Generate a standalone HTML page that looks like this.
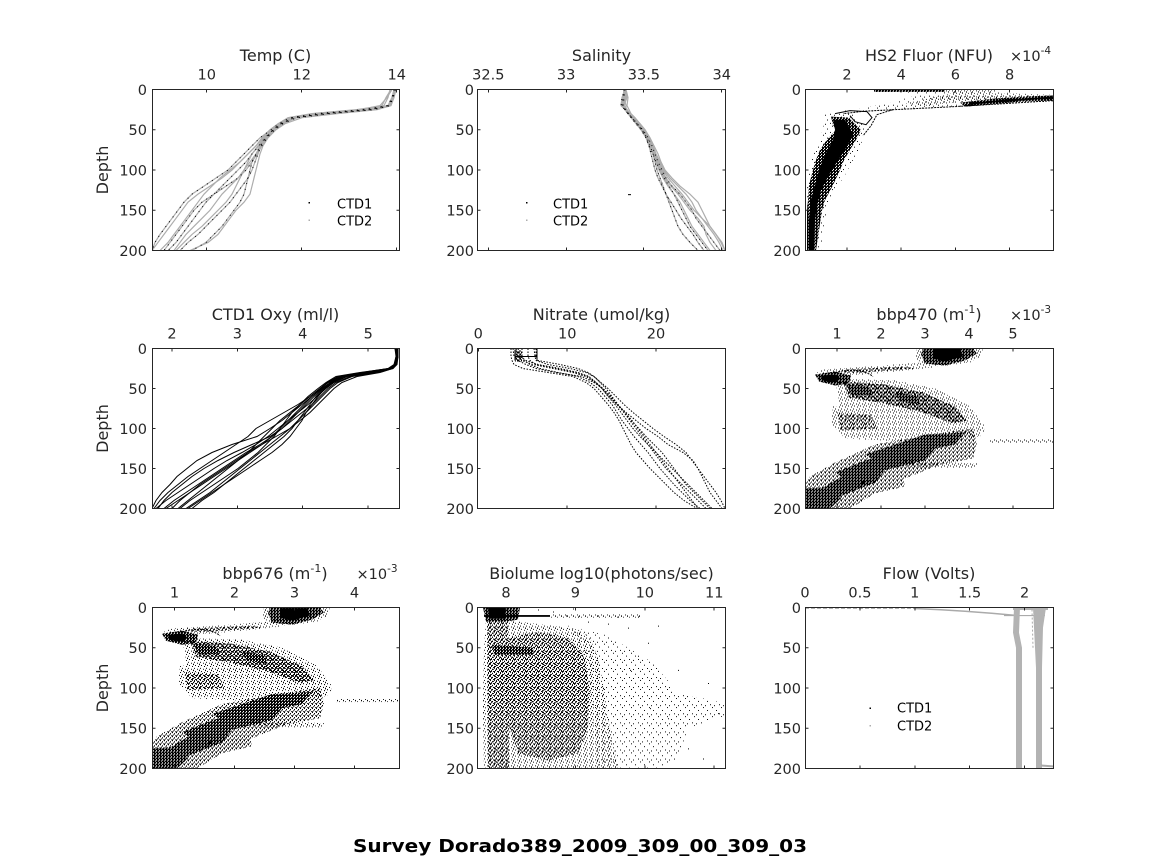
<!DOCTYPE html>
<html><head><meta charset="utf-8"><style>html,body{margin:0;padding:0;background:#fff}svg{display:block}</style></head>
<body>
<svg width="1164" height="864" viewBox="0 0 1164 864" xmlns="http://www.w3.org/2000/svg" xmlns:xlink="http://www.w3.org/1999/xlink" font-family="'DejaVu Sans','Liberation Sans',sans-serif" fill="#262626">
<rect width="1164" height="864" fill="#fff"/>
<defs>
<pattern id="pA" width="9" height="9" patternUnits="userSpaceOnUse"><path shape-rendering="crispEdges" fill="#000" d="M0,0h1v1h-1zM4,3h1v1h-1zM7,6h1v1h-1zM2,7h1v1h-1z"/></pattern>
<pattern id="pB" width="6" height="6" patternUnits="userSpaceOnUse"><path shape-rendering="crispEdges" fill="#000" d="M0,0h1v1h-1zM3,1h1v1h-1zM1,3h1v1h-1zM4,4h1v1h-1zM5,2h1v1h-1z"/></pattern>
<pattern id="pC" width="4" height="4" patternUnits="userSpaceOnUse"><path shape-rendering="crispEdges" fill="#000" d="M0,0h1v1h-1zM2,1h1v1h-1zM1,2h1v1h-1zM3,3h1v1h-1zM0,3h1v1h-1z"/></pattern>
<pattern id="pE" width="4" height="4" patternUnits="userSpaceOnUse"><path shape-rendering="crispEdges" fill="#000" d="M0,0h2v1h-2zM2,1h1v1h-1zM1,2h2v1h-2zM3,3h1v1h-1zM0,3h1v1h-1zM3,0h1v1h-1z"/></pattern>
<pattern id="pD" width="3" height="3" patternUnits="userSpaceOnUse"><rect width="3" height="3" fill="#000"/><path shape-rendering="crispEdges" fill="#fff" d="M1,1h1v1h-1zM0,2h1v1h-1z"/></pattern>
<clipPath id="clipA"><rect x="0" y="0" width="248" height="160"/></clipPath>

<g id="bbp">
<polygon fill="url(#pB)" points="112,0 178,0 176,8 165,14 125,19 110,10"/>
<polygon fill="url(#pD)" points="118,0 168,0 172,5 160,12 140,17 120,15 116,6"/>
<polygon fill="#000" points="128,1 155,1 158,8 140,13 128,10"/>
<polygon fill="url(#pB)" points="118,14 90,16 50,19 20,21 10,24 25,27 60,26 100,22 128,19"/>
<polygon fill="url(#pC)" points="40,21 100,18 110,20 60,24 38,24"/>
<polygon fill="url(#pD)" points="10,26 30,23 46,27 44,35 30,37 14,33"/>
<polygon fill="#000" points="16,27 30,26 36,30 30,34 17,32"/>
<path d="M30,24 Q55,18 68,28" fill="none" stroke="#000" stroke-width="1" stroke-dasharray="2 1"/>
<polygon fill="url(#pB)" points="30,30 90,32 130,40 165,58 180,78 150,80 110,70 70,62 35,58"/>
<polygon fill="url(#pB)" points="28,58 80,56 130,62 170,72 178,80 175,88 150,92 100,93 40,90 26,75"/>
<polygon fill="url(#pE)" points="38,33 80,36 118,44 150,58 162,72 148,75 115,63 80,55 44,49"/>
<polygon fill="url(#pD)" points="42,36 64,38 68,46 46,47"/>
<polygon fill="url(#pD)" points="90,44 112,47 116,56 94,53"/>
<polygon fill="url(#pC)" points="32,64 66,66 72,80 36,82"/>
<polygon fill="url(#pB)" points="155,74 178,76 180,84 160,86"/>
<rect x="184" y="91" width="64" height="3" fill="url(#pB)"/>
<polygon fill="url(#pC)" points="168,80 125,86 70,96 30,114 5,128 0,136 0,160 45,160 70,145 105,128 135,116 168,110 172,95"/>
<polygon fill="url(#pD)" points="120,86 160,84 150,96 100,106 70,112 60,106 90,96"/>
<polygon fill="url(#pD)" points="90,104 130,100 120,112 70,124 40,130 30,124 60,112"/>
<polygon fill="url(#pD)" points="40,126 80,122 70,134 40,146 15,156 5,150 20,138"/>
<polygon fill="url(#pD)" points="0,140 30,138 36,150 25,160 0,160"/>
<polygon fill="url(#pB)" points="98,112 172,115 172,120 98,118"/>
<polygon fill="url(#pC)" points="52,133 98,128 100,138 60,147"/>
</g>

<!-- Temp profiles -->
<path id="t1" d="M244,0 241,8 238,16 222,20 178,24 145,28 130,34 122,40 114,48 108,56 104,64 100,72 98,80 96,88 94,96 92,104 88,112 82,120 76,128 70,136 62,144 54,152 40,160"/>
<path id="t2" d="M238,0 236,8 232,16 205,20 160,24 136,28 126,34 118,40 110,48 104,56 96,64 88,72 80,80 70,88 58,96 46,104 36,112 30,120 24,128 18,136 12,144 6,152 0,160"/>
<path id="t3" d="M243,0 240,8 236,16 210,20 165,24 138,28 127,34 119,40 108,48 100,56 92,64 84,72 76,80 64,88 52,96 40,104 32,112 26,120 20,128 14,136 8,144 3,152 0,160"/>
<path id="t4" d="M244,0 242,8 239,16 225,20 185,24 150,28 133,34 124,40 116,48 111,56 108,64 106,72 104,80 102,88 100,96 98,104 92,112 84,120 78,128 72,136 66,144 56,152 38,160"/>
<path id="t5" d="M242,0 240,8 236,16 218,20 172,24 142,28 129,34 121,40 113,48 107,56 100,64 94,72 86,80 78,88 70,96 62,104 54,112 48,120 42,128 36,136 30,144 24,152 16,160"/>
<path id="t6" d="M243,0 241,8 237,16 212,20 168,24 139,28 128,34 120,40 112,48 106,56 100,64 96,72 92,80 86,88 78,96 70,104 64,112 58,120 50,128 42,136 34,144 28,152 22,160"/>
<path id="t7" d="M240,0 235,8 228,16 208,20 162,24 137,28 127,34 120,40 113,48 109,56 104,64 98,72 92,80 88,88 84,96 80,104 74,112 66,120 58,128 50,136 40,144 32,152 24,160"/>
<path id="t8" d="M243,0 241,8 238,16 220,20 175,24 144,28 131,34 123,40 115,48 110,56 105,64 100,72 94,80 86,88 74,96 62,104 50,112 42,120 36,128 30,136 24,144 18,152 12,160"/>
<path id="t9" d="M239,0 234,8 230,16 214,20 168,24 140,28 128,34 120,40 111,48 104,56 96,64 88,72 78,80 68,88 60,96 52,104 46,112 40,120 34,128 28,136 22,144 16,152 8,160"/>
<path id="t10" d="M243,0 241,8 237,16 216,20 172,24 141,28 129,34 121,40 114,48 109,56 106,64 103,72 100,80 96,88 90,96 84,104 78,112 70,120 62,128 54,136 46,144 36,152 28,160"/>

<!-- Salinity profiles -->
<path id="s1" d="M147,0 144,8 143,16 147,20 150,24 154,28 159,34 164,40 169,48 172,56 175,64 177,72 179,80 182,88 185,96 188,104 191,112 194,120 197,128 200,136 205,144 212,152 220,160"/>
<path id="s2" d="M148,0 150,8 149,16 151,20 153,24 157,28 162,34 167,40 172,48 176,56 180,64 183,72 187,80 194,88 202,96 212,104 220,112 224,120 228,128 232,136 238,144 243,152 247,160"/>
<path id="s3" d="M146,0 145,8 144,16 147,20 150,24 153,28 158,34 163,40 168,48 171,56 173,64 175,72 177,80 180,88 184,96 188,104 193,112 198,120 203,128 209,136 215,144 220,152 226,160"/>
<path id="s4" d="M147,0 148,8 146,16 149,20 152,24 156,28 161,34 166,40 171,48 175,56 178,64 182,72 186,80 192,88 200,96 208,104 214,112 218,120 224,128 230,136 236,144 241,152 245,160"/>
<path id="s5" d="M147,0 149,8 146,16 148,20 151,24 155,28 160,34 165,40 169,48 172,56 175,64 178,72 181,80 185,88 190,96 196,104 202,112 206,120 210,128 214,136 220,144 226,152 232,160"/>
<path id="s6" d="M146,0 146,8 145,16 148,20 151,24 154,28 159,34 165,40 170,48 174,56 177,64 180,72 184,80 188,88 194,96 202,104 208,112 214,120 218,128 224,136 230,144 236,152 242,160"/>
<path id="s7" d="M148,0 146,8 148,16 148,20 152,24 156,28 161,34 166,40 170,48 173,56 176,64 179,72 183,80 187,88 193,96 200,104 206,112 212,120 220,128 226,136 228,144 232,152 238,160"/>
<path id="s8" d="M147,0 146,8 145,16 147,20 150,24 154,28 159,34 164,40 168,48 171,56 175,64 178,72 182,80 186,88 191,96 196,104 200,112 204,120 208,128 212,136 218,144 224,152 230,160"/>
<path id="s9" d="M147,0 147,8 146,16 149,20 152,24 156,28 162,34 167,40 171,48 175,56 178,64 181,72 185,80 190,88 197,96 204,104 210,112 216,120 224,128 232,136 238,144 244,152 247,160"/>
</defs>

<!-- ===== Panel 1: Temp ===== -->
<g transform="translate(152,89.5) scale(1,1.00625)">
<g clip-path="url(#clipA)" fill="none">
<g stroke="#adadad" stroke-width="1.2">
<use xlink:href="#t1"/><use xlink:href="#t2"/><use xlink:href="#t3"/><use xlink:href="#t4"/><use xlink:href="#t5"/><use xlink:href="#t6"/><use xlink:href="#t7"/><use xlink:href="#t8"/><use xlink:href="#t9"/><use xlink:href="#t10"/>
</g>
<g stroke="#000" stroke-width="1" stroke-dasharray="1 5">
<use xlink:href="#t1"/><use xlink:href="#t3"/><use xlink:href="#t5"/><use xlink:href="#t8"/><use xlink:href="#t10"/>
</g>
</g>
</g>

<!-- ===== Panel 2: Salinity ===== -->
<g transform="translate(478,89.5) scale(1,1.00625)">
<g clip-path="url(#clipA)" fill="none">
<g stroke="#adadad" stroke-width="1.2">
<use xlink:href="#s1"/><use xlink:href="#s2"/><use xlink:href="#s3"/><use xlink:href="#s4"/><use xlink:href="#s5"/><use xlink:href="#s6"/><use xlink:href="#s7"/><use xlink:href="#s8"/><use xlink:href="#s9"/>
</g>
<g stroke="#000" stroke-width="1" stroke-dasharray="1 4">
<use xlink:href="#s1"/><use xlink:href="#s3"/><use xlink:href="#s6"/><use xlink:href="#s8"/>
</g>
<rect x="150" y="104" width="3" height="1" fill="#000"/>
</g>
</g>

<!-- ===== Panel 3: Fluor ===== -->
<g transform="translate(805,89.5) scale(1,1.00625)">
<g clip-path="url(#clipA)">
<polygon fill="url(#pA)" points="20,24 50,22 60,40 56,55 48,70 40,85 30,100 22,120 18,140 16,160 0,160 0,120 2,95 5,75 12,55 18,40"/>
<polygon fill="url(#pD)" points="26,27 44,28 50,34 56,40 51,50 45,60 39,70 35,80 28,95 20,110 17,120 14,140 11,160 2,160 2,120 3,110 4,95 8,80 11,70 15,60 22,50 31,40 28,35"/>
<polygon fill="#000" points="28,30 40,30 48,45 40,60 32,72 24,85 16,100 12,115 10,130 9,160 4,160 4,130 6,110 10,95 14,80 20,65 28,50 30,40"/>
<polygon fill="url(#pD)" points="69,0 140,0 140,2.5 69,2.5"/>
<polygon fill="url(#pB)" points="140,0 190,0 190,3 140,3"/>
<polygon fill="url(#pA)" points="100,2 150,2 190,3 225,4 248,5 248,12 200,14 160,17 120,19 90,21 60,22 40,25 34,22 60,18 90,12 110,6"/>
<polygon fill="url(#pB)" points="150,3 200,4 248,5 248,8 200,8 160,12 120,16 100,14"/>
<polygon fill="url(#pD)" points="155,13 190,9 220,7 248,6 248,11 215,12 185,15 160,17"/>
<path d="M248,8 L200,11 L165,14" fill="none" stroke="#000" stroke-width="2"/>
<path d="M248,11 L200,14 L150,17 L100,19.5 L60,21.5 L38,24" fill="none" stroke="#000" stroke-width="1" stroke-dasharray="2 1"/>
<path d="M30,24 L45,21 L62,22 L67,28 L61,35 L50,32 L45,26" fill="none" stroke="#000" stroke-width="1"/>
<path d="M88,20 L72,25 L66,36 L58,46" fill="none" stroke="#000" stroke-width="1" stroke-dasharray="2 1"/>
</g>
</g>

<!-- ===== Panel 4: Oxy ===== -->
<g transform="translate(152,348.5)">
<g clip-path="url(#clipA)" fill="none" stroke="#000" stroke-width="1">
<path d="M244,0 245,8 243,16 238,20 215,24 190,28 178,34 170,40 160,48 150,56 140,64 130,72 118,80 105,88 80,96 60,104 45,112 35,120 25,128 18,136 10,144 4,152 0,160"/>
<path d="M245,0 246,8 244,16 240,20 220,24 195,28 182,34 174,40 165,48 156,56 146,64 136,72 126,80 116,88 104,96 90,104 75,112 62,120 50,128 38,136 26,144 14,152 4,160"/>
<path d="M243,0 244,8 242,16 236,20 210,24 186,28 175,34 168,40 158,48 148,56 138,64 128,72 120,80 112,88 104,96 96,104 86,112 76,120 66,128 56,136 46,144 36,152 26,160"/>
<path d="M246,0 246,8 245,16 241,20 225,24 200,28 186,34 178,40 170,48 162,56 154,64 146,72 138,80 128,88 118,96 108,104 98,112 88,120 78,128 68,136 58,144 46,152 34,160"/>
<path d="M244,0 245,8 243,16 237,20 212,24 188,28 176,34 169,40 160,48 152,56 144,64 136,72 128,80 120,88 110,96 98,104 86,112 74,120 62,128 50,136 38,144 26,152 14,160"/>
<path d="M245,0 246,8 244,16 239,20 218,24 192,28 180,34 172,40 164,48 158,56 152,64 146,72 140,80 132,88 122,96 112,104 102,112 92,120 82,128 72,136 62,144 50,152 40,160"/>
<path d="M244,0 244,8 243,16 238,20 214,24 189,28 176,34 168,40 158,48 146,56 132,64 118,72 104,80 96,88 84,96 72,104 60,112 48,120 36,128 26,136 16,144 8,152 2,160"/>
<path d="M245,0 245,8 244,16 240,20 222,24 198,28 184,34 176,40 168,48 160,56 150,64 140,72 130,80 120,88 108,96 94,104 82,112 70,120 58,128 46,136 34,144 22,152 12,160"/>
<path d="M243,0 245,8 243,16 237,20 208,24 184,28 174,34 166,40 156,48 148,56 140,64 134,72 128,80 122,88 114,96 106,104 96,112 86,120 74,128 62,136 50,144 38,152 28,160"/>
<path d="M246,0 246,8 244,16 241,20 228,24 205,28 190,34 182,40 174,48 166,56 158,64 148,72 138,80 124,88 110,96 96,104 84,112 72,120 60,128 48,136 38,144 28,152 20,160"/>
<path d="M244,0 245,8 243,16 238,20 216,24 191,28 179,34 171,40 162,48 154,56 146,64 138,72 130,80 118,88 100,96 82,104 66,112 52,120 40,128 30,136 20,144 12,152 6,160"/>
<path d="M245,0 246,8 244,16 240,20 219,24 194,28 181,34 173,40 166,48 160,56 154,64 150,72 144,80 138,88 130,96 120,104 108,112 96,120 84,128 72,136 60,144 48,152 36,160"/>
</g>
</g>

<!-- ===== Panel 5: Nitrate ===== -->
<g transform="translate(478,348.5)">
<g clip-path="url(#clipA)" fill="none" stroke="#000" stroke-width="1" stroke-dasharray="1.5 1.5">
<path d="M33,0 33,8 34,12 36,16 45,20 70,24 95,28 108,34 116,40 123,48 130,56 136,64 141,72 145,80 149,88 153,96 158,104 165,112 172,120 180,128 188,136 196,144 206,152 219,160"/>
<path d="M58,0 58,8 60,12 82,16 100,20 110,24 116,28 122,34 128,40 134,48 140,56 146,64 152,72 158,80 164,88 170,96 176,104 182,112 188,120 196,128 204,136 212,144 220,152 228,160"/>
<path d="M38,0 40,8 44,12 55,16 75,20 95,24 108,28 117,34 124,40 130,48 137,56 143,64 149,72 155,80 162,88 170,96 178,104 186,112 194,120 202,128 210,136 218,144 226,152 234,160"/>
<path d="M44,0 44,8 46,12 52,16 62,20 80,24 100,28 112,34 120,40 127,48 134,56 139,64 144,72 150,80 156,88 163,96 170,104 176,112 182,120 189,128 196,136 204,144 212,152 222,160"/>
<path d="M56,0 57,8 58,12 70,16 92,20 108,24 116,28 123,34 130,40 138,48 146,56 155,64 165,72 175,80 186,88 198,96 208,104 214,112 220,120 226,128 232,136 238,144 243,152 247,160"/>
<path d="M40,0 42,8 48,12 60,16 82,20 100,24 111,28 118,34 124,40 131,48 139,56 148,64 158,72 168,80 180,88 190,96 205,104 215,112 220,120 224,128 228,136 232,144 238,152 244,160"/>
<path d="M35,0 36,8 40,12 48,16 58,20 78,24 104,28 116,34 125,40 132,48 139,56 146,64 153,72 161,80 168,88 176,96 184,104 190,112 196,120 202,128 208,136 216,144 224,152 232,160"/>
<path d="M50,0 50,8 52,12 58,16 78,20 98,24 110,28 118,34 125,40 133,48 140,56 147,64 154,72 160,80 166,88 172,96 178,104 184,112 190,120 196,128 202,136 208,144 214,152 220,160"/>
</g>
<g clip-path="url(#clipA)">
<path d="M37,1 L37,12 M37,8 L59,8 M59,0 L59,12" fill="none" stroke="#000" stroke-width="1"/>
<rect x="37" y="2" width="7" height="11" fill="url(#pE)"/>
</g>
</g>

<!-- ===== Panel 6: bbp470 ===== -->
<g transform="translate(805,348.5)">
<g clip-path="url(#clipA)"><use xlink:href="#bbp"/></g>
</g>

<!-- ===== Panel 7: bbp676 ===== -->
<g transform="translate(152,607.5) scale(1,1.00625)">
<g clip-path="url(#clipA)"><use xlink:href="#bbp"/></g>
</g>

<!-- ===== Panel 8: Biolume ===== -->
<g transform="translate(478,607.5) scale(1,1.00625)">
<g clip-path="url(#clipA)">
<polygon fill="url(#pA)" points="90,18 130,28 175,55 200,85 246,95 246,108 210,120 200,150 185,160 120,160 110,60"/>
<polygon fill="url(#pB)" points="8,12 40,14 75,18 100,22 112,30 120,50 126,80 130,110 136,140 140,160 6,160 5,100 6,40"/>
<polygon fill="url(#pC)" points="30,30 60,24 90,30 105,45 112,80 110,120 100,145 70,152 40,145 28,110 26,60"/>
<polygon fill="url(#pC)" points="9,10 30,10 31,160 10,160"/>
<polygon fill="url(#pD)" points="5,0 42,0 40,12 28,14 8,14"/>
<polygon fill="#000" points="10,0 28,0 27,11 11,11"/>
<rect x="6" y="7.5" width="66" height="1.8" fill="#000"/>
<rect x="72" y="7" width="90" height="3" fill="url(#pB)"/>
<polygon fill="url(#pD)" points="14,37 55,40 56,47 16,47"/>
<path fill="#000" d="M88,8h1v1h-1zM100,9h1v1h-1zM120,8h1v1h-1zM140,9h1v1h-1zM160,9h1v1h-1zM180,18h1v1h-1zM170,35h1v1h-1zM160,48h1v1h-1zM200,62h1v1h-1zM230,75h1v1h-1zM152,62h1v1h-1zM190,110h1v1h-1zM240,105h1v1h-1zM210,140h1v1h-1zM172,100h1v1h-1zM225,150h1v1h-1zM150,20h1v1h-1zM130,16h1v1h-1zM110,14h1v1h-1zM60,2h1v1h-1zM75,4h1v1h-1zM95,1h1v1h-1z"/>
</g>
</g>

<!-- ===== Panel 9: Flow ===== -->
<g transform="translate(805,607.5) scale(1,1.00625)">
<g clip-path="url(#clipA)">
<path d="M0,0.8 L109,0.8" stroke="#aaa" stroke-width="1.2" stroke-dasharray="4 2" fill="none"/>
<path d="M109,1 Q160,3 212,8" stroke="#aaa" stroke-width="1.5" fill="none"/>
<path d="M199,8 L240,8" stroke="#aaa" stroke-width="1.2" fill="none"/>
<rect x="208" y="0" width="35" height="2.5" fill="#b3b3b3"/>
<polygon fill="#b3b3b3" points="209,0 215,0 214,25 217,40 217,160 211,160 211,40 208,25"/>
<polygon fill="#b3b3b3" points="228,0 241,0 238,20 237,60 237,160 231,160 231,60 229,20"/>
<path d="M236,157 L249,158" stroke="#aaa" stroke-width="2" fill="none"/>
<path d="M227,2 L228,40" stroke="#aaa" stroke-width="1" stroke-dasharray="2 2" fill="none"/>
</g>
</g>

<!-- ===== Frames & ticks ===== -->
<g fill="none" stroke="#262626" stroke-width="1">
<rect x="152.5" y="89.5" width="247" height="161"/>
<rect x="477.5" y="89.5" width="248" height="161"/>
<rect x="805.5" y="89.5" width="248" height="161"/>
<rect x="152.5" y="348.5" width="247" height="160"/>
<rect x="477.5" y="348.5" width="248" height="160"/>
<rect x="805.5" y="348.5" width="248" height="160"/>
<rect x="152.5" y="607.5" width="247" height="161"/>
<rect x="477.5" y="607.5" width="248" height="161"/>
<rect x="805.5" y="607.5" width="248" height="161"/>
<path d="M206.5,89.5v3M301.5,89.5v3M396.5,89.5v3M206.5,250.5v-3M301.5,250.5v-3M396.5,250.5v-3
M152.5,129.75h3M152.5,170h3M152.5,210.25h3M399.5,129.75h-3M399.5,170h-3M399.5,210.25h-3"/>
<path d="M488.5,89.5v3M566.5,89.5v3M643.5,89.5v3M721.5,89.5v3M488.5,250.5v-3M566.5,250.5v-3M643.5,250.5v-3M721.5,250.5v-3
M477.5,129.75h3M477.5,170h3M477.5,210.25h3M725.5,129.75h-3M725.5,170h-3M725.5,210.25h-3"/>
<path d="M847,89.5v3M901,89.5v3M955.5,89.5v3M1009.5,89.5v3M847,250.5v-3M901,250.5v-3M955.5,250.5v-3M1009.5,250.5v-3
M805.5,129.75h3M805.5,170h3M805.5,210.25h3M1053.5,129.75h-3M1053.5,170h-3M1053.5,210.25h-3"/>
<path d="M172,348.5v3M237.5,348.5v3M302.5,348.5v3M368,348.5v3M172,508.5v-3M237.5,508.5v-3M302.5,508.5v-3M368,508.5v-3
M152.5,388.5h3M152.5,428.5h3M152.5,468.5h3M399.5,388.5h-3M399.5,428.5h-3M399.5,468.5h-3"/>
<path d="M478.5,348.5v3M567,348.5v3M656,348.5v3M567,508.5v-3M656,508.5v-3
M477.5,388.5h3M477.5,428.5h3M477.5,468.5h3M725.5,388.5h-3M725.5,428.5h-3M725.5,468.5h-3"/>
<path d="M837,348.5v3M881,348.5v3M925,348.5v3M969,348.5v3M1013,348.5v3M837,508.5v-3M881,508.5v-3M925,508.5v-3M969,508.5v-3M1013,508.5v-3
M805.5,388.5h3M805.5,428.5h3M805.5,468.5h3M1053.5,388.5h-3M1053.5,428.5h-3M1053.5,468.5h-3"/>
<path d="M174.5,607.5v3M234.5,607.5v3M294.5,607.5v3M354.5,607.5v3M174.5,768.5v-3M234.5,768.5v-3M294.5,768.5v-3M354.5,768.5v-3
M152.5,647.75h3M152.5,688h3M152.5,728.25h3M399.5,647.75h-3M399.5,688h-3M399.5,728.25h-3"/>
<path d="M506,607.5v3M575.5,607.5v3M645,607.5v3M714,607.5v3M506,768.5v-3M575.5,768.5v-3M645,768.5v-3M714,768.5v-3
M477.5,647.75h3M477.5,688h3M477.5,728.25h3M725.5,647.75h-3M725.5,688h-3M725.5,728.25h-3"/>
<path d="M860,607.5v3M915,607.5v3M969.5,607.5v3M1024.5,607.5v3M860,768.5v-3M915,768.5v-3M969.5,768.5v-3M1024.5,768.5v-3
M805.5,647.75h3M805.5,688h3M805.5,728.25h3M1053.5,647.75h-3M1053.5,688h-3M1053.5,728.25h-3"/>
</g>

<!-- ===== Tick labels ===== -->
<g font-size="14.5" text-anchor="middle">
<text x="206.7" y="79.5">10</text><text x="301.7" y="79.5">12</text><text x="396.7" y="79.5">14</text>
<text x="488.3" y="79.5">32.5</text><text x="566.1" y="79.5">33</text><text x="643.9" y="79.5">33.5</text><text x="721.7" y="79.5">34</text>
<text x="847" y="79.5">2</text><text x="901.2" y="79.5">4</text><text x="955.4" y="79.5">6</text><text x="1009.6" y="79.5">8</text>
<text x="172" y="338.5">2</text><text x="237.4" y="338.5">3</text><text x="302.8" y="338.5">4</text><text x="368.2" y="338.5">5</text>
<text x="478.3" y="338.5">0</text><text x="567.2" y="338.5">10</text><text x="656" y="338.5">20</text>
<text x="837" y="338.5">1</text><text x="881" y="338.5">2</text><text x="925" y="338.5">3</text><text x="969" y="338.5">4</text><text x="1013" y="338.5">5</text>
<text x="174.5" y="597.5">1</text><text x="234.5" y="597.5">2</text><text x="294.5" y="597.5">3</text><text x="354.5" y="597.5">4</text>
<text x="506" y="597.5">8</text><text x="575.4" y="597.5">9</text><text x="644.8" y="597.5">10</text><text x="714.2" y="597.5">11</text>
<text x="805" y="597.5">0</text><text x="859.9" y="597.5">0.5</text><text x="914.8" y="597.5">1</text><text x="969.7" y="597.5">1.5</text><text x="1024.6" y="597.5">2</text>
</g>
<g font-size="14.5" text-anchor="end">
<text x="147" y="94.8">0</text><text x="147" y="135">50</text><text x="147" y="175.3">100</text><text x="147" y="215.5">150</text><text x="147" y="255.8">200</text>
<text x="474" y="94.8">0</text><text x="474" y="135">50</text><text x="474" y="175.3">100</text><text x="474" y="215.5">150</text><text x="474" y="255.8">200</text>
<text x="801" y="94.8">0</text><text x="801" y="135">50</text><text x="801" y="175.3">100</text><text x="801" y="215.5">150</text><text x="801" y="255.8">200</text>
<text x="147" y="353.8">0</text><text x="147" y="393.8">50</text><text x="147" y="433.8">100</text><text x="147" y="473.8">150</text><text x="147" y="513.8">200</text>
<text x="474" y="353.8">0</text><text x="474" y="393.8">50</text><text x="474" y="433.8">100</text><text x="474" y="473.8">150</text><text x="474" y="513.8">200</text>
<text x="801" y="353.8">0</text><text x="801" y="393.8">50</text><text x="801" y="433.8">100</text><text x="801" y="473.8">150</text><text x="801" y="513.8">200</text>
<text x="147" y="612.8">0</text><text x="147" y="653">50</text><text x="147" y="693.3">100</text><text x="147" y="733.5">150</text><text x="147" y="773.8">200</text>
<text x="474" y="612.8">0</text><text x="474" y="653">50</text><text x="474" y="693.3">100</text><text x="474" y="733.5">150</text><text x="474" y="773.8">200</text>
<text x="801" y="612.8">0</text><text x="801" y="653">50</text><text x="801" y="693.3">100</text><text x="801" y="733.5">150</text><text x="801" y="773.8">200</text>
</g>

<!-- ===== Titles ===== -->
<g font-size="16" text-anchor="middle">
<text x="275.5" y="61">Temp (C)</text>
<text x="601.5" y="61">Salinity</text>
<text x="929" y="61">HS2 Fluor (NFU)</text>
<text x="275.5" y="320">CTD1 Oxy (ml/l)</text>
<text x="601.5" y="320">Nitrate (umol/kg)</text>
<text x="929" y="320">bbp470 (m<tspan font-size="11" dy="-7">-1</tspan><tspan dy="7">)</tspan></text>
<text x="275" y="579">bbp676 (m<tspan font-size="11" dy="-7">-1</tspan><tspan dy="7">)</tspan></text>
<text x="601.5" y="579">Biolume log10(photons/sec)</text>
<text x="929" y="579">Flow (Volts)</text>
</g>
<g font-size="14.5">
<text x="1010" y="61">×10<tspan font-size="10.5" dy="-7">-4</tspan></text>
<text x="1010" y="320">×10<tspan font-size="10.5" dy="-7">-3</tspan></text>
<text x="356.5" y="579">×10<tspan font-size="10.5" dy="-7">-3</tspan></text>
</g>
<g font-size="16" text-anchor="middle">
<text transform="translate(108,170) rotate(-90)">Depth</text>
<text transform="translate(108,428.5) rotate(-90)">Depth</text>
<text transform="translate(108,688) rotate(-90)">Depth</text>
</g>

<!-- ===== Legends ===== -->
<g font-size="13" fill="#000">
<rect x="308.5" y="202" width="1.5" height="1.5" fill="#000"/><rect x="308.5" y="219.5" width="1.5" height="1.5" fill="#adadad"/>
<text x="337" y="208.3">CTD1</text><text x="337" y="225.7">CTD2</text>
<rect x="526" y="202" width="1.5" height="1.5" fill="#000"/><rect x="526" y="219.5" width="1.5" height="1.5" fill="#adadad"/>
<text x="553" y="208.3">CTD1</text><text x="553" y="225.7">CTD2</text>
<rect x="869.5" y="707.5" width="1.5" height="1.5" fill="#000"/><rect x="869.5" y="725" width="1.5" height="1.5" fill="#adadad"/>
<text x="897" y="712.5">CTD1</text><text x="897" y="730.5">CTD2</text>
</g>

<text x="580" y="852" font-size="18" font-weight="bold" fill="#000" text-anchor="middle" textLength="454" lengthAdjust="spacingAndGlyphs">Survey Dorado389_2009_309_00_309_03</text>
</svg>
</body></html>
